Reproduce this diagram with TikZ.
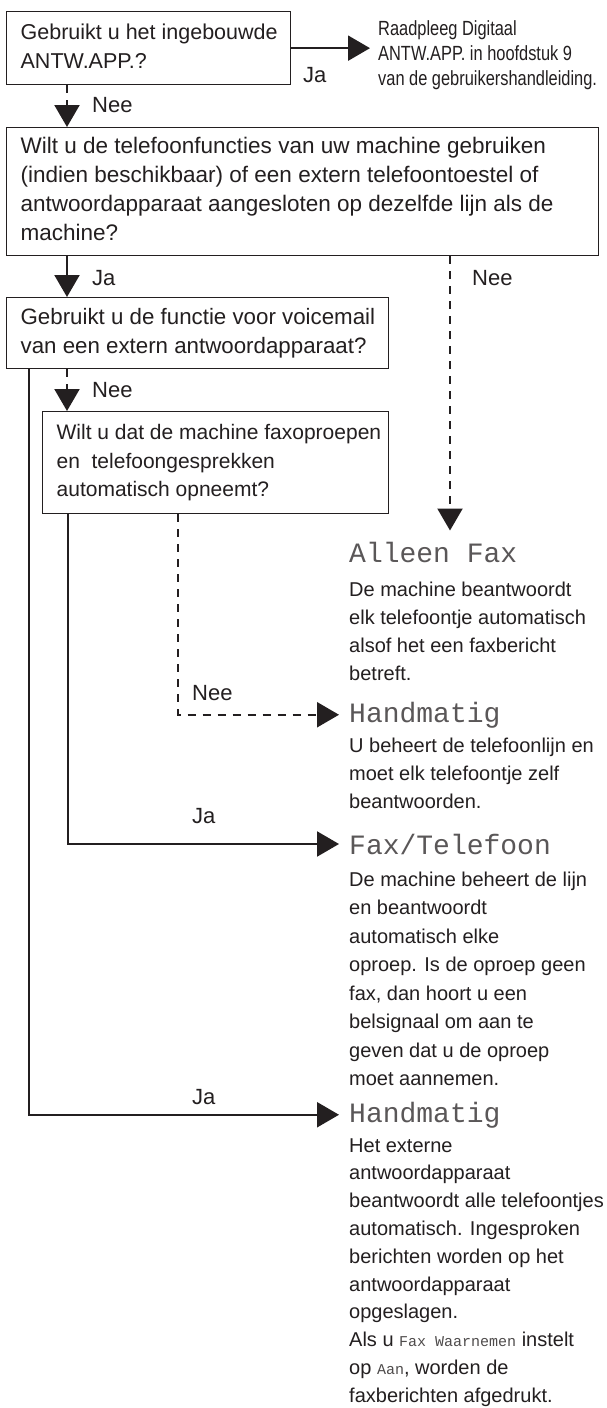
\documentclass[tikz,border=0pt]{standalone}
\usepackage{fontspec}
\setmainfont{Liberation Sans}
\newfontfamily\narrowfont[FakeStretch=0.8]{Liberation Sans}
\newfontfamily\lcdfont{Liberation Mono}
\usetikzlibrary{arrows.meta}
\definecolor{ink}{HTML}{231F20}
\newcommand\qfont{\fontsize{21.5}{29}\selectfont}
\newcommand\bodyfont{\fontsize{20}{28}\selectfont}
\newcommand\lblfont{\fontsize{22}{26}\selectfont}
\newcommand\txtlines[1]{\begin{tabular}[t]{@{}l@{}}#1\end{tabular}}
\newcommand\qtext[2]{\makebox[#1][l]{\begin{tabular}{@{}l@{}}#2\end{tabular}}}
\newcommand\lcdsmall[1]{{\lcdfont\fontsize{15}{15}\selectfont\color{ink!80}#1}}
\begin{document}
\begin{tikzpicture}[x=1pt,y=-1pt,
  every node/.style={inner sep=0pt, text=ink},
  qbox/.style={draw=ink, line width=1.3pt, inner xsep=14pt, inner ysep=0pt, anchor=north west, font=\qfont},
  lbl/.style={anchor=base west, font=\lblfont},
  lcdtitle/.style={anchor=base west, font={\lcdfont\fontsize{28}{28}\selectfont}, text=ink!75},
  body/.style={anchor=base west, font=\bodyfont},
  arr/.style={draw=ink, line width=2.2pt, -{Triangle[length=22pt,width=25pt]}},
  darr/.style={arr, dash pattern=on 8pt off 7pt},
]
\fill[white] (0,0) rectangle (607,1408);
\useasboundingbox (0,0) rectangle (607,1408);

% question boxes
\node[qbox, minimum width=284pt, minimum height=73pt] (q1) at (6,11)
  {\raisebox{3pt}{\qtext{256pt}{Gebruikt u het ingebouwde\\ANTW.APP.?}}};
\node[qbox, minimum width=592pt, minimum height=128pt, font={\fontsize{22.5}{29}\selectfont}] (q2) at (6,127)
  {\qtext{564pt}{Wilt u de telefoonfuncties van uw machine gebruiken\\(indien beschikbaar) of een extern telefoontoestel of\\antwoordapparaat aangesloten op dezelfde lijn als de\\machine?}};
\node[qbox, minimum width=382pt, minimum height=71pt, font={\fontsize{22.3}{29}\selectfont}] (q3) at (6,297)
  {\qtext{354pt}{Gebruikt u de functie voor voicemail\\van een extern antwoordapparaat?}};
\node[qbox, minimum width=346pt, minimum height=102pt, font={\fontsize{21}{28.5}\selectfont}] (q4) at (42,411)
  {\qtext{318pt}{Wilt u dat de machine faxoproepen\\en\ \ telefoongesprekken\\automatisch opneemt?}};

% reference text
\node[anchor=base west, font={\narrowfont\fontsize{20.5}{25}\selectfont}] (ref) at (378,35)
  {\txtlines{Raadpleeg Digitaal\\ANTW.APP. in hoofdstuk 9\\van de gebruikershandleiding.}};

% outcomes
\node[lcdtitle] (t1) at (349,562) {Alleen Fax};
\node[body] (d1) at (349,596) {\txtlines{De machine beantwoordt\\elk telefoontje automatisch\\alsof het een faxbericht\\betreft.}};
\node[lcdtitle] (t2) at (349,722) {Handmatig};
\node[body] (d2) at (349,752) {\txtlines{U beheert de telefoonlijn en\\moet elk telefoontje zelf\\beantwoorden.}};
\node[lcdtitle] (t3) at (349,854) {Fax/Telefoon};
\node[body, font={\fontsize{20}{28.5}\selectfont}] (d3) at (349,886) {\txtlines{De machine beheert de lijn\\en beantwoordt\\automatisch elke\\oproep. Is de oproep geen\\fax, dan hoort u een\\belsignaal om aan te\\geven dat u de oproep\\moet aannemen.}};
\node[lcdtitle] (t4) at (349,1122) {Handmatig};
\node[body, font={\fontsize{20}{27.8}\selectfont}] (d4) at (349,1152) {\txtlines{Het externe\\antwoordapparaat\\beantwoordt alle telefoontjes\\automatisch. Ingesproken\\berichten worden op het\\antwoordapparaat\\opgeslagen.\\Als u \lcdsmall{Fax Waarnemen} instelt\\op \lcdsmall{Aan}, worden de\\faxberichten afgedrukt.}};

% connectors
\draw[arr] (q1.east) -- ([xshift=-8pt]q1.east -| ref.west);
\node[lbl] (l1) at (303,82) {Ja};
\draw[darr] ([xshift=61pt]q1.south west) -- ([xshift=61pt]q2.north west);
\node[lbl] (l2) at (92,112) {Nee};
\draw[arr] ([xshift=61pt]q2.south west) -- ([xshift=61pt]q3.north west);
\node[lbl] (l3) at (92,285) {Ja};
\draw[darr, shorten >=11pt] ([xshift=444pt]q2.south west) -- ([xshift=444pt]q2.south west |- t1.north);
\node[lbl] (l4) at (472,285) {Nee};
\draw[darr] ([xshift=61pt]q3.south west) -- ([xshift=25pt]q4.north west);
\node[lbl] (l5) at (92,397) {Nee};
\draw[darr] ([xshift=136pt]q4.south west) |- ([xshift=-10pt]t2.west);
\node[lbl] (l6) at (192,700) {Nee};
\draw[arr] ([xshift=26pt]q4.south west) |- ([xshift=-10pt]t3.west);
\node[lbl] (l7) at (192,823) {Ja};
\draw[arr] ([xshift=23pt]q3.south west) |- ([xshift=-10pt]t4.west);
\node[lbl] (l8) at (192,1104) {Ja};
\end{tikzpicture}
\end{document}
